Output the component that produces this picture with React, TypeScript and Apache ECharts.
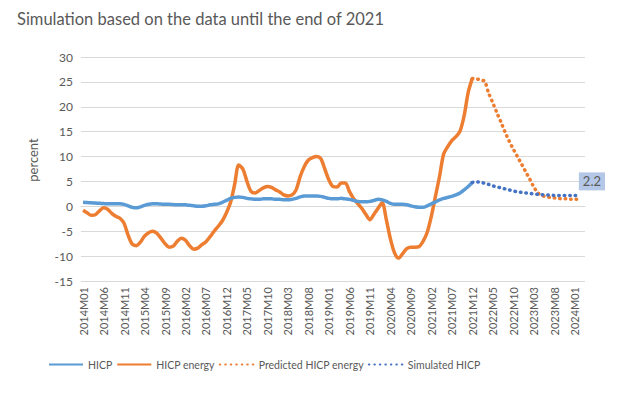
import React, { useEffect, useRef } from "react";
import * as echarts from "echarts";

const START_YEAR = 2014;
const MONTH_COUNT = 123; // 2014M01 .. 2024M03
const categories: string[] = [];
for (let i = 0; i < MONTH_COUNT; i++) {
  const y = START_YEAR + Math.floor(i / 12);
  const m = (i % 12) + 1;
  categories.push(`${y}M${m < 10 ? "0" + m : m}`);
}

const hicp = [
  0.8, 0.75, 0.7, 0.65, 0.6, 0.55, 0.5, 0.5, 0.5, 0.5, 0.4, 0.1,
  -0.2, -0.3, -0.1, 0.2, 0.4, 0.5, 0.5, 0.45, 0.4, 0.4, 0.35, 0.3,
  0.3, 0.3, 0.2, 0.1, 0.0, 0.0, 0.1, 0.3, 0.4, 0.5, 0.8, 1.2,
  1.6, 1.8, 1.9, 1.8, 1.6, 1.5, 1.4, 1.4, 1.5, 1.5, 1.5, 1.4,
  1.4, 1.3, 1.3, 1.4, 1.6, 1.9, 2.1, 2.1, 2.1, 2.1, 2.0, 1.8,
  1.6, 1.5, 1.5, 1.6, 1.5, 1.4, 1.2, 1.0, 0.9, 0.9, 1.0, 1.2,
  1.4, 1.3, 1.0, 0.6, 0.4, 0.4, 0.4, 0.3, 0.1, -0.1, -0.2, -0.2,
  0.1, 0.5, 0.9, 1.3, 1.6, 1.8, 2.0, 2.3, 2.7, 3.3, 4.0, 4.8,
];

const hicpEnergy = [
  -0.8, -1.3, -1.8, -1.7, -0.9, -0.3, -0.6, -1.4, -2.0, -2.4, -3.4, -5.8,
  -7.6, -7.9, -7.2, -6.0, -5.3, -5.0, -5.4, -6.4, -7.5, -8.2, -8.0, -7.0,
  -6.4, -6.8, -7.9, -8.6, -8.4, -7.7, -7.1, -6.1, -5.0, -4.0, -2.9, -1.3,
  0.8, 4.4, 8.3, 7.5, 5.0, 3.0, 2.7, 3.2, 3.7, 4.0, 3.8, 3.3,
  2.9, 2.3, 2.1, 2.3, 3.3, 6.0, 8.0, 9.3, 9.8, 10.0, 9.6, 7.5,
  5.3, 4.0, 3.9, 4.7, 4.7, 3.0, 1.6, 0.6, -0.4, -1.6, -2.7, -1.6,
  -0.4, 0.7, -2.6, -6.5, -9.3, -10.4, -9.5, -8.5, -8.2, -8.2, -8.1, -7.0,
  -5.2, -2.0, 2.0, 6.0, 10.5, 12.0, 13.2, 14.0, 15.1, 18.2, 22.9, 25.7,
];

// projections from 2021M12 (index 95) to 2024M02 (index 121)
const predictedEnergyTail = [
  25.7, 25.6, 25.4, 25.1, 22.7, 20.8, 18.8, 16.9, 14.9, 13.1, 11.5, 10.0,
  8.5, 7.0, 5.5, 3.9, 2.7, 2.2, 1.9, 1.8, 1.7, 1.6, 1.5, 1.5, 1.4, 1.4, 1.4,
];
const simulatedHicpTail = [
  4.8, 4.9, 4.9, 4.6, 4.4, 4.1, 3.9, 3.7, 3.5, 3.3, 3.1, 2.9,
  2.8, 2.7, 2.6, 2.5, 2.4, 2.35, 2.3, 2.25, 2.2, 2.2, 2.2, 2.2, 2.2, 2.2, 2.2,
];
const TAIL_START = 95;

const pad = (n: number) => new Array(n).fill(null);
const predictedEnergy = [...pad(TAIL_START), ...predictedEnergyTail];
const simulatedHicp = [...pad(TAIL_START), ...simulatedHicpTail];

const FONT = "Lato";
const GREY = "#595959";

export default function App() {
  const ref = useRef<HTMLDivElement>(null);
  useEffect(() => {
    if (!ref.current) return;
    const chart = echarts.init(ref.current, undefined, { renderer: "svg" });
    const dotted = { type: [0.5, 5] as any, cap: "round" as const, width: 3.5 };
    chart.setOption({
      animation: false,
      backgroundColor: "#ffffff",
      textStyle: { fontFamily: FONT },
      title: {
        text: "Simulation based on the data until the end of 2021",
        left: 12,
        top: 5,
        textStyle: { fontFamily: FONT, fontSize: 16.5, fontWeight: "normal", color: GREY },
      },
      grid: { left: 81, right: 39, top: 57, bottom: 112, containLabel: false },
      legend: {
        left: 43,
        top: 354,
        itemWidth: 34,
        itemHeight: 14,
        itemGap: 4,
        itemStyle: { opacity: 0 },
        textStyle: { fontFamily: FONT, fontSize: 10.5, color: GREY },
        data: ["HICP", "HICP energy", "Predicted HICP energy", "Simulated HICP"],
      },
      xAxis: {
        type: "category",
        data: categories,
        boundaryGap: true,
        axisTick: { show: false },
        axisLine: { lineStyle: { color: "#D9D9D9" } },
        axisLabel: {
          interval: 4,
          rotate: 90,
          fontFamily: FONT,
          fontSize: 11,
          color: GREY,
          margin: 6,
        },
      },
      yAxis: {
        type: "value",
        min: -15,
        max: 30,
        interval: 5,
        axisLine: { show: false },
        axisTick: { show: false },
        splitLine: { lineStyle: { color: "#D9D9D9", width: 1 } },
        axisLabel: { fontFamily: FONT, fontSize: 12, color: GREY, margin: 8 },
      },
      graphic: [
        {
          type: "text",
          x: 33,
          y: 160,
          rotation: Math.PI / 2,
          style: {
            text: "percent",
            fontFamily: FONT,
            fontSize: 13,
            fill: GREY,
            align: "center",
            verticalAlign: "middle",
          },
        },
      ],
      series: [
        {
          name: "HICP",
          type: "line",
          data: hicp,
          symbol: "none",
          smooth: 0.3,
          lineStyle: { color: "#5B9BD5", width: 3.5 },
          itemStyle: { color: "#5B9BD5" },
          z: 3,
        },
        {
          name: "HICP energy",
          type: "line",
          data: hicpEnergy,
          symbol: "none",
          smooth: 0.3,
          lineStyle: { color: "#ED7D31", width: 3.5 },
          itemStyle: { color: "#ED7D31" },
          z: 2,
        },
        {
          name: "Predicted HICP energy",
          type: "line",
          data: predictedEnergy,
          symbol: "none",
          smooth: 0.3,
          lineStyle: { color: "#ED7D31", ...dotted },
          itemStyle: { color: "#ED7D31" },
          z: 2,
        },
        {
          name: "Simulated HICP",
          type: "line",
          data: simulatedHicp,
          symbol: "none",
          smooth: 0.3,
          lineStyle: { color: "#4472C4", ...dotted },
          itemStyle: { color: "#4472C4" },
          z: 3,
          endLabel: {
            show: true,
            formatter: (p: any) => String(p.value),
            backgroundColor: "#B4C7E7",
            color: GREY,
            fontFamily: FONT,
            fontSize: 13,
            padding: [3, 4, 2, 4],
            offset: [-8, -14],
          },
        },
      ],
    });
    return () => chart.dispose();
  }, []);
  return <div ref={ref} style={{ width: 624, height: 393, position: "fixed", left: 0, top: 0 }} />;
}
